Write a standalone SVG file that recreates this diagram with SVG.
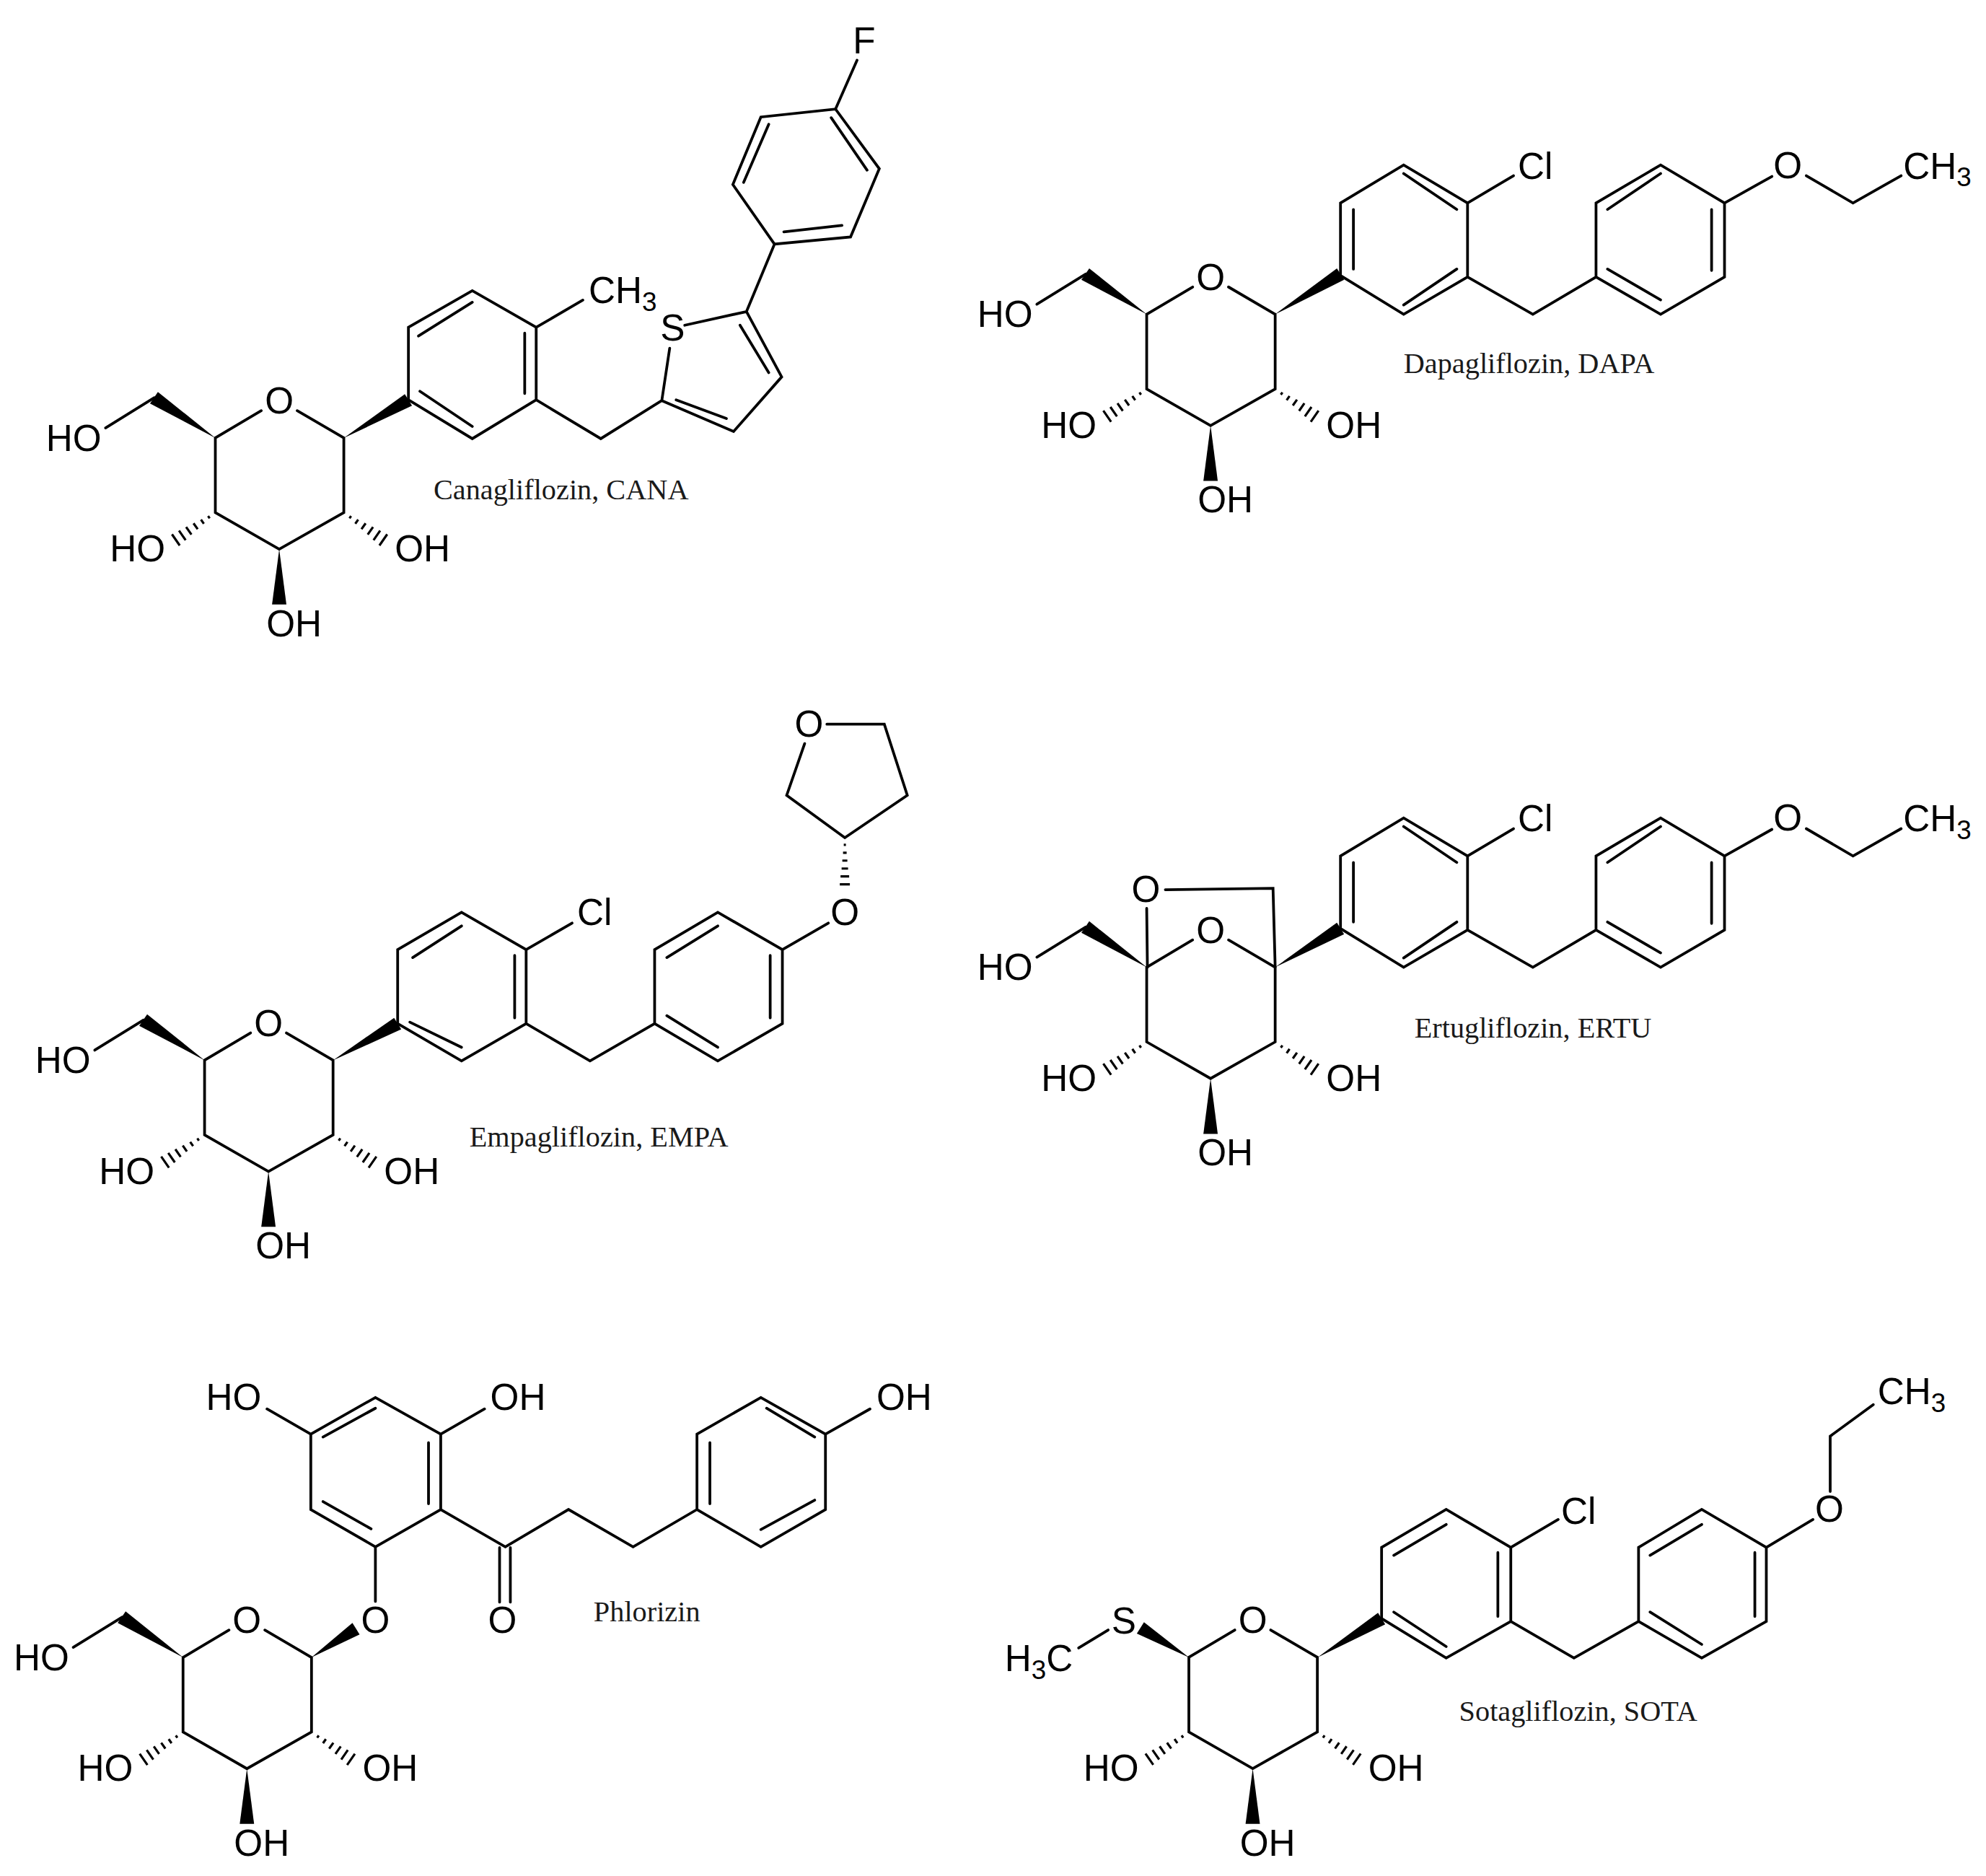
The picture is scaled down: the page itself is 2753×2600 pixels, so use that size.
<svg xmlns="http://www.w3.org/2000/svg" xmlns:xlink="http://www.w3.org/1999/xlink" width="2753" height="2600" viewBox="0 0 2753 2600">
<style>
.b{fill:none;stroke:#000;stroke-width:3.8;stroke-linecap:round;stroke-linejoin:miter}
.h{fill:none;stroke:#000;stroke-width:3.2}
.w{fill:#000;stroke:none}
.a{font-family:"Liberation Sans",Arial,sans-serif;font-size:51.5px;fill:#000}
.m{text-anchor:middle}
.s{font-size:37px}
.l{font-family:"Liberation Serif","Times New Roman",serif;font-size:40.5px;fill:#1a1a1a}
</style>
<defs>
<g id="sugar">
<path class="b" d="M364 572L300 610V714L389 765L479 714V610L414 572"/>
<polygon class="w" points="389,765 379,842 399,842"/>
<path class="h" d="M486.9 722L489.1 718.8M495 729.6L499 723.8M503.6 737.1L509.4 728.9M512.3 744.6L519.7 734M520.4 752.3L529.6 739.1M528.6 759.8L539.4 744.2"/>
<path class="h" d="M292.1 722L289.9 718.8M284 729.6L280 723.8M275.4 737.1L269.6 728.9M266.7 744.6L259.3 734M258.6 752.3L249.4 739.1M250.4 759.8L239.6 744.2"/>
</g>
<g id="hydroxymethyl">
<path class="b" d="M147 596L215 554"/>
<polygon class="w" points="300,610 220,546 209,562"/>
</g>
<g id="chlorobenzylphenetole">
<path class="b" d="M1861 1288V1187L1949 1134L2038 1187V1290L1949 1342L1861 1288M2038 1187L2102 1149M2038 1290L2129 1342L2217 1290V1187L2307 1134L2396 1187V1290L2307 1342L2217 1290M2396 1187L2462 1150M2510 1149L2575 1187L2642 1149"/>
<path class="b" d="M1879 1196V1279M1949 1146L2023 1196M1949 1329L2023 1279M2233 1196L2307 1146M2378 1196V1281M2233 1279L2307 1322"/>
</g>
</defs>

<g id="canagliflozin" transform="scale(.995)">
<g>
<use href="#sugar"/><use href="#hydroxymethyl"/>
<text class="a" x="64" y="628">HO</text><text class="a m" x="389" y="576">O</text>
<text class="a" x="550" y="782">OH</text><text class="a" x="153" y="782">HO</text><text class="a" x="371" y="886">OH</text>
</g>
<polygon class="w" points="479,610 574,565 564,549"/>
<path class="b" d="M569 557V456L658 405L747 456V557L658 611L569 557M747 456L812 418M747 557L837 611L922 558L933 485M954 453L1040 434L1089 525L1022 601L922 558M1040 434L1079 340L1185 330L1225 235L1164 152L1060 163L1021 257L1079 340M1164 152L1194 84"/>
<path class="b" d="M583 468L658 421M731 464V548M585 545L658 594M1031 453L1071 519M942 557L1012 583M1071 173L1036 254M1158 164L1208 237M1092 323L1173 314"/>
<text class="a" x="820" y="422">CH<tspan class="s" dy="11">3</tspan></text>
<text class="a m" x="937" y="474">S</text>
<text class="a m" x="1204" y="74">F</text>
<text class="l" x="604" y="695">Canagliflozin, CANA</text>
</g>

<g id="dapagliflozin" transform="translate(6.5,.75) scale(.995)">
<g transform="translate(1291,-173)">
<use href="#sugar"/><use href="#hydroxymethyl"/>
<text class="a" x="64" y="628">HO</text><text class="a m" x="389" y="576">O</text>
<text class="a" x="550" y="782">OH</text><text class="a" x="153" y="782">HO</text><text class="a" x="371" y="886">OH</text>
</g>
<polygon class="w" points="1770,437 1866,389 1856,373"/>
<g transform="translate(0,-905)">
<use href="#chlorobenzylphenetole"/>
<text class="a" x="2108" y="1153">Cl</text><text class="a m" x="2484" y="1152">O</text>
<text class="a" x="2645" y="1153">CH<tspan class="s" dy="11">3</tspan></text>
</g>
<text class="l" x="1949" y="519">Dapagliflozin, DAPA</text>
</g>

<g id="empagliflozin" transform="translate(0,4.75) scale(.995)">
<g transform="translate(-15,862)">
<use href="#sugar"/><use href="#hydroxymethyl"/>
<text class="a" x="64" y="628">HO</text><text class="a m" x="389" y="576">O</text>
<text class="a" x="550" y="782">OH</text><text class="a" x="153" y="782">HO</text><text class="a" x="371" y="886">OH</text>
</g>
<polygon class="w" points="464,1472 559,1429 549,1413"/>
<path class="b" d="M554 1421V1318L643 1266L733 1318V1421L643 1473L554 1421M733 1318L797 1281M733 1421L822 1473L912 1421V1318L1000 1266L1090 1318V1421L1000 1473L912 1421M1090 1318L1154 1281M1121 1031L1096 1103L1177 1162L1264 1103L1232 1004H1152"/>
<path class="b" d="M575 1329L643 1285M717 1326V1413M571 1419L643 1454M929 1329L1000 1285M1073 1326V1413M929 1410L1000 1454"/>
<path class="h" d="M1175.5 1172H1178.5M1174.5 1183H1179.5M1173.5 1194H1180.5M1172.5 1205H1181.5M1171 1216H1183M1170 1227H1184"/>
<text class="a" x="804" y="1284">Cl</text>
<text class="a m" x="1177" y="1284">O</text>
<text class="a m" x="1127" y="1021">O</text>
<text class="l" x="654" y="1592">Empagliflozin, EMPA</text>
</g>

<g id="ertugliflozin" transform="translate(6.5,5.25) scale(.995)">
<g transform="translate(1291,732)">
<use href="#sugar"/><use href="#hydroxymethyl"/>
<text class="a" x="64" y="628">HO</text><text class="a m" x="389" y="576">O</text>
<text class="a" x="550" y="782">OH</text><text class="a" x="153" y="782">HO</text><text class="a" x="371" y="886">OH</text>
</g>
<polygon class="w" points="1770,1342 1866,1296 1856,1280"/>
<path class="b" d="M1617 1234L1767 1232L1770 1342M1591 1260L1592 1342"/>
<text class="a m" x="1590" y="1251">O</text>
<use href="#chlorobenzylphenetole"/>
<text class="a" x="2108" y="1153">Cl</text><text class="a m" x="2484" y="1152">O</text>
<text class="a" x="2645" y="1153">CH<tspan class="s" dy="11">3</tspan></text>
<text class="l" x="1964" y="1440">Ertugliflozin, ERTU</text>
</g>

<g id="phlorizin" transform="translate(0,9.5) scale(.995)">
<g transform="translate(-45,1689)">
<use href="#sugar"/><use href="#hydroxymethyl"/>
<text class="a" x="64" y="628">HO</text><text class="a m" x="389" y="576">O</text>
<text class="a" x="550" y="782">OH</text><text class="a" x="153" y="782">HO</text><text class="a" x="371" y="886">OH</text>
</g>
<polygon class="w" points="434,2299 501,2267 491,2251"/>
<path class="b" d="M523 2221V2145L433 2093V1988L523 1937L614 1988V2093L523 2145M614 2093L704 2145L792 2093L882 2145L971 2093V1988L1060 1937L1150 1988V2093L1060 2145L971 2093M433 1988L372 1953M614 1988L675 1953M1150 1988L1212 1953M696 2146V2222M711 2146V2222"/>
<path class="b" d="M450 2082L517 2120M450 1992L523 1952M597 2000V2085M989 2000V2085M1068 1952L1135 1992M1060 2121L1135 2080"/>
<text class="a" x="287" y="1954">HO</text><text class="a" x="683" y="1954">OH</text><text class="a" x="1221" y="1954">OH</text>
<text class="a m" x="523" y="2265">O</text><text class="a m" x="700" y="2265">O</text>
<text class="l" x="827" y="2249">Phlorizin</text>
</g>

<g id="sotagliflozin" transform="translate(6.75,9.4) scale(.995)">
<g transform="translate(1349.5,1689)">
<use href="#sugar"/>
<text class="a m" x="389" y="576">O</text>
<text class="a" x="550" y="782">OH</text><text class="a" x="153" y="782">HO</text><text class="a" x="371" y="886">OH</text>
</g>
<polygon class="w" points="1649.5,2299 1587,2250 1577,2266"/>
<polygon class="w" points="1829,2299 1923,2253 1913,2237"/>
<path class="b" d="M1537 2261L1496 2286M1918 2245V2146L2008 2093L2098 2146V2249L2008 2300L1918 2245M2098 2146L2164 2107M2098 2249L2186 2300L2276 2249V2146L2364 2093L2454 2146V2249L2364 2300L2276 2249M2454 2146L2519 2107M2543 2068V1991L2603 1947"/>
<path class="b" d="M1935 2157L2008 2114M2080 2153V2242M1935 2236L2008 2284M2292 2157L2364 2114M2438 2153V2242M2292 2236L2364 2281"/>
<text class="a m" x="1559" y="2266">S</text>
<text class="a" x="1393" y="2318">H<tspan class="s" dy="11">3</tspan><tspan dy="-11">C</tspan></text>
<text class="a" x="2168" y="2113">Cl</text>
<text class="a m" x="2542" y="2110">O</text>
<text class="a" x="2609" y="1946">CH<tspan class="s" dy="11">3</tspan></text>
<text class="l" x="2026" y="2388">Sotagliflozin, SOTA</text>
</g>
</svg>
